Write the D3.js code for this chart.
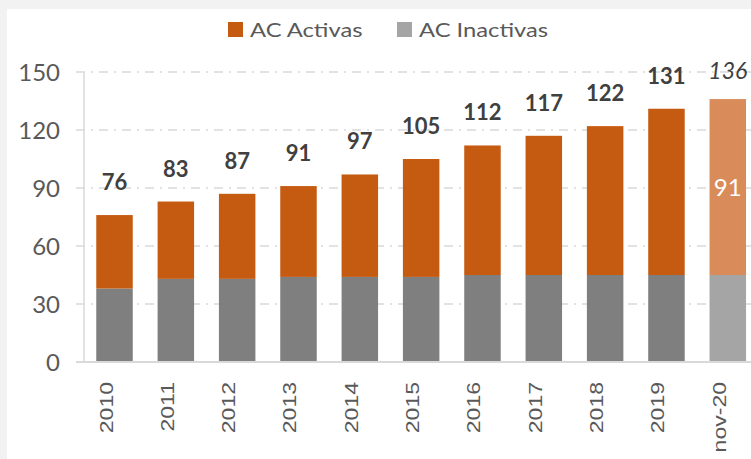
<!DOCTYPE html>
<html>
<head>
<meta charset="utf-8">
<script src="https://cdn.jsdelivr.net/npm/d3@7"></script>
<style>
  body { margin: 0; background: #f2f2f2; }
  svg { display: block; }
</style>
</head>
<body>
<svg width="751" height="459"></svg>
<script>
const categories = ["2010", "2011", "2012", "2013", "2014", "2015", "2016", "2017", "2018", "2019", "nov-20"];
const inactivas = [38, 43, 43, 44, 44, 44, 45, 45, 45, 45, 45];
const activas = [38, 40, 44, 47, 53, 61, 67, 72, 77, 86, 91];
const totals = [76, 83, 87, 91, 97, 105, 112, 117, 122, 131, 136];
const yTicks = [0, 30, 60, 90, 120, 150];

const svg = d3.select("svg"),
      width = +svg.attr("width"),
      height = +svg.attr("height");

const font = "Lato, Carlito, sans-serif";
const margin = { top: 72, left: 84, bottom: 97 };

// white chart area, grey page shows as strip top/left
svg.append("rect")
    .attr("x", 7).attr("y", 9)
    .attr("width", width - 7).attr("height", height - 9)
    .attr("fill", "#fff");

const x = d3.scaleBand()
    .domain(categories)
    .range([margin.left, margin.left + 61.3 * categories.length])
    .paddingInner(0.405)
    .paddingOuter(0.2);

const y = d3.scaleLinear()
    .domain([0, 150])
    .range([height - margin.bottom, margin.top]);

const data = categories.map((c, i) => ({
  cat: c, inact: inactivas[i], act: activas[i], total: totals[i], last: i === categories.length - 1
}));

// gridlines
svg.append("g")
  .selectAll("line")
  .data(yTicks.filter(d => d > 0))
  .join("line")
    .attr("x1", margin.left - 8)
    .attr("x2", width)
    .attr("y1", d => y(d))
    .attr("y2", d => y(d))
    .attr("stroke", "#d9d9d9")
    .attr("stroke-width", 1.5)
    .attr("stroke-dasharray", "9,6,2,6");

// y axis line
svg.append("line")
    .attr("x1", margin.left).attr("x2", margin.left)
    .attr("y1", y(150)).attr("y2", y(0))
    .attr("stroke", "#d9d9d9").attr("stroke-width", 1.5);

svg.append("g")
  .selectAll("text")
  .data(yTicks)
  .join("text")
    .attr("x", 60)
    .attr("y", d => y(d))
    .attr("dy", "0.36em")
    .attr("text-anchor", "end")
    .attr("fill", "#595959")
    .style("font", `24px ${font}`)
    .text(d => d);

// bars
const bars = svg.append("g");
bars.selectAll("rect.inact")
  .data(data)
  .join("rect")
    .attr("class", "inact")
    .attr("x", d => x(d.cat))
    .attr("width", x.bandwidth())
    .attr("y", d => y(d.inact))
    .attr("height", d => y(0) - y(d.inact))
    .attr("fill", d => d.last ? "#a5a5a5" : "#7f7f7f");

bars.selectAll("rect.act")
  .data(data)
  .join("rect")
    .attr("class", "act")
    .attr("x", d => x(d.cat))
    .attr("width", x.bandwidth())
    .attr("y", d => y(d.inact + d.act))
    .attr("height", d => y(d.inact) - y(d.inact + d.act))
    .attr("fill", d => d.last ? "#d98b5a" : "#c55a11");

// baseline
svg.append("line")
    .attr("x1", margin.left - 8).attr("x2", width)
    .attr("y1", y(0)).attr("y2", y(0))
    .attr("stroke", "#d9d9d9").attr("stroke-width", 2);

// totals
svg.append("g")
  .selectAll("text")
  .data(data)
  .join("text")
    .attr("x", d => x(d.cat) + x.bandwidth() / 2)
    .attr("y", d => y(d.total) - (d.last ? 20 : 25))
    .attr("text-anchor", "middle")
    .attr("fill", "#404040")
    .style("font", d => d.last ? `italic 23px ${font}` : `bold 22px ${font}`)
    .text(d => d.total);

// value inside last bar
const lastD = data[data.length - 1];
svg.append("text")
    .attr("x", x(lastD.cat) + x.bandwidth() / 2)
    .attr("y", y(lastD.inact + lastD.act / 2))
    .attr("dy", "0.36em")
    .attr("text-anchor", "middle")
    .attr("fill", "#fff")
    .style("font", `24px ${font}`)
    .text(lastD.act);

// x labels (rotated, a bit stretched along the text)
svg.append("g")
  .selectAll("text")
  .data(categories)
  .join("text")
    .attr("transform", d => `translate(${x(d) + x.bandwidth() / 2 - 2},${y(0) + 20}) rotate(-90) scale(1.28,1)`)
    .attr("text-anchor", "end")
    .attr("fill", "#595959")
    .style("font", `18px "Liberation Sans", Arial, sans-serif`)
    .text(d => d);

// legend
const legend = [
  { name: "AC Activas", color: "#c55a11", x: 228 },
  { name: "AC Inactivas", color: "#a5a5a5", x: 397 }
];
const lg = svg.append("g").selectAll("g").data(legend).join("g")
    .attr("transform", d => `translate(${d.x},22)`);
lg.append("rect").attr("width", 15).attr("height", 15).attr("fill", d => d.color);
lg.append("text")
    .attr("transform", "translate(22,15) scale(1.25,1)")
    .attr("fill", "#595959")
    .style("font", `19px ${font}`)
    .text(d => d.name);
</script>
</body>
</html>
